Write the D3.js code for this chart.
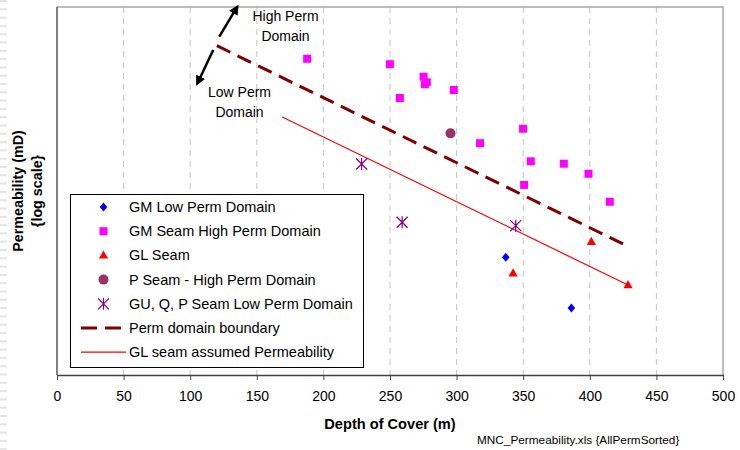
<!DOCTYPE html>
<html>
<head>
<meta charset="utf-8">
<script src="https://cdn.jsdelivr.net/npm/d3@7"></script>
<style>
  body { margin: 0; background: #fff; }
  svg { display: block; font-family: Arial, "Liberation Sans", sans-serif; }
</style>
</head>
<body>
<svg id="chart" width="740" height="450"></svg>
<script>
// =========================
// DATA
// =========================

const xTicks = [0, 50, 100, 150, 200, 250, 300, 350, 400, 450, 500];
const gridTicks = [50, 100, 150, 200, 250, 300, 350, 400, 450];

const gmLowDepth = [336.9, 386.2];
const gmLowPerm = [0.0397, 0.00813];

const gmHighDepth = [187.8, 249.9, 275.2, 277.6, 276.2, 257.4, 297.9, 349.9, 317.6, 355.7, 380.5, 399.0, 350.7, 415.0];
const gmHighPerm = [19.8, 16.7, 11.3, 9.48, 8.91, 5.80, 7.45, 2.22, 1.41, 0.801, 0.743, 0.543, 0.382, 0.226];

const glDepth = [401.2, 342.4, 428.7];
const glPerm = [0.0647, 0.0241, 0.0167];

const pHighDepth = [295.4];
const pHighPerm = [1.92];

const guLowDepth = [228.7, 259.1, 344.4];
const guLowPerm = [0.736, 0.119, 0.107];

const boundaryDepth = [120, 425.5];
const boundaryPerm = [29.8, 0.0597];

const glAssumedDepth = [169.1, 428.7];
const glAssumedPerm = [3.2, 0.0167];

const legendLabels = [
  'GM Low Perm Domain',
  'GM Seam High Perm Domain',
  'GL Seam',
  'P Seam - High Perm Domain',
  'GU, Q, P Seam Low Perm Domain',
  'Perm domain boundary',
  'GL seam assumed Permeability'
];

// =========================
// SETUP
// =========================

const svg = d3.select('#chart');

const margin = { top: 7, right: 17, bottom: 75, left: 57 };
const width = 740;
const height = 450;

const x = d3.scaleLinear()
  .domain([0, 500])
  .range([margin.left, width - margin.right]);

const y = d3.scaleLog()
  .domain([0.001, 100])
  .range([height - margin.bottom, margin.top]);

const symbols = {
  diamond: 'M0,-4.5L3.8,0L0,4.5L-3.8,0Z',
  square: 'M-4,-4H4V4H-4Z',
  triangle: 'M0,-5L4.6,3.2L-4.6,3.2Z',
  star: 'M-5.5,-5.5L5.5,5.5M-5.5,5.5L5.5,-5.5M0,-6L0,6'
};

// left-edge stripes
const stripes = svg.append('g');
d3.range(0, height, 8.3).forEach(yy => {
  stripes.append('rect')
    .attr('x', 0).attr('y', yy)
    .attr('width', 7).attr('height', 2)
    .attr('fill', '#e4e4e4');
});

// =========================
// GRID + FRAME
// =========================

svg.append('g')
  .selectAll('line')
  .data(gridTicks)
  .enter()
  .append('line')
  .attr('x1', d => x(d)).attr('x2', d => x(d))
  .attr('y1', y.range()[1]).attr('y2', y.range()[0])
  .attr('stroke', '#c4c4c4')
  .attr('stroke-width', 1)
  .attr('stroke-dasharray', '6,5');

// top and right border
svg.append('path')
  .attr('d', `M${x(0)},${y.range()[1]}H${x(500)}V${y.range()[0]}`)
  .attr('fill', 'none')
  .attr('stroke', '#a8a8a8')
  .attr('stroke-width', 1.5);

// left axis line
svg.append('line')
  .attr('x1', x(0)).attr('x2', x(0))
  .attr('y1', y.range()[1]).attr('y2', y.range()[0])
  .attr('stroke', '#404040')
  .attr('stroke-width', 1.3);

// bottom axis
const xAxis = svg.append('g')
  .attr('transform', `translate(0, ${y.range()[0]})`)
  .call(d3.axisBottom(x).tickValues(xTicks).tickSize(5).tickSizeOuter(0).tickPadding(11));

xAxis.select('.domain').attr('stroke', '#404040').attr('stroke-width', 1.3);
xAxis.selectAll('.tick line').attr('stroke', '#404040');
xAxis.selectAll('text')
  .style('font-size', '14px')
  .style('font-family', 'Arial, "Liberation Sans", sans-serif')
  .attr('fill', '#000');

// =========================
// LINES
// =========================

const line = d3.line().x(d => x(d[0])).y(d => y(d[1]));

svg.append('path')
  .attr('d', line(glAssumedDepth.map((d, i) => [d, glAssumedPerm[i]])))
  .attr('fill', 'none')
  .attr('stroke', '#ff0000')
  .attr('stroke-width', 1.2);

svg.append('path')
  .attr('d', line(boundaryDepth.map((d, i) => [d, boundaryPerm[i]])))
  .attr('fill', 'none')
  .attr('stroke', '#800000')
  .attr('stroke-width', 3)
  .attr('stroke-dasharray', '15,8');

// =========================
// POINTS
// =========================

function drawSymbols(depths, perms, shape, fill, stroke) {
  svg.append('g')
    .selectAll('path')
    .data(depths.map((d, i) => [d, perms[i]]))
    .enter()
    .append('path')
    .attr('transform', d => `translate(${x(d[0])}, ${y(d[1])})`)
    .attr('d', symbols[shape])
    .attr('fill', fill)
    .attr('stroke', stroke || 'none')
    .attr('stroke-width', 1.2);
}

drawSymbols(gmHighDepth, gmHighPerm, 'square', '#ff00ff');
drawSymbols(gmLowDepth, gmLowPerm, 'diamond', '#0000ff');
drawSymbols(glDepth, glPerm, 'triangle', '#ff0000');
drawSymbols(guLowDepth, guLowPerm, 'star', 'none', '#800080');

svg.append('g')
  .selectAll('circle')
  .data(pHighDepth.map((d, i) => [d, pHighPerm[i]]))
  .enter()
  .append('circle')
  .attr('cx', d => x(d[0]))
  .attr('cy', d => y(d[1]))
  .attr('r', 5)
  .attr('fill', '#993366');

// =========================
// ANNOTATIONS
// =========================

svg.append('defs').append('marker')
  .attr('id', 'arrow')
  .attr('viewBox', '0 0 10 10')
  .attr('refX', 8).attr('refY', 5)
  .attr('markerWidth', 4).attr('markerHeight', 4)
  .attr('orient', 'auto')
  .append('path')
  .attr('d', 'M0,0L10,5L0,10Z')
  .attr('fill', '#000');

const arrows = [
  [[121.8, 39.5], [135.5, 102]],
  [[117.3, 26.1], [105.2, 9.0]]
];

arrows.forEach(a => {
  svg.append('line')
    .attr('x1', x(a[0][0])).attr('y1', y(a[0][1]))
    .attr('x2', x(a[1][0])).attr('y2', y(a[1][1]))
    .attr('stroke', '#000')
    .attr('stroke-width', 2.5)
    .attr('marker-end', 'url(#arrow)');
});

function multiText(lines, cx, cy, step) {
  const t = svg.append('text')
    .attr('text-anchor', 'middle')
    .style('font-size', '14px')
    .attr('fill', '#000');
  lines.forEach((l, i) => {
    t.append('tspan').attr('x', cx).attr('y', cy + i * step).text(l);
  });
}

multiText(['High Perm', 'Domain'], 285.5, 21, 19.7);
multiText(['Low Perm', 'Domain'], 239.5, 97, 19.5);

// =========================
// LEGEND
// =========================

const legend = svg.append('g');

legend.append('rect')
  .attr('x', 70.5).attr('y', 194.5)
  .attr('width', 293).attr('height', 173)
  .attr('fill', '#fff')
  .attr('stroke', '#000')
  .attr('stroke-width', 1);

const legendShapes = [
  { shape: 'diamond', fill: '#0000ff' },
  { shape: 'square', fill: '#ff00ff' },
  { shape: 'triangle', fill: '#ff0000' },
  { shape: 'circle', fill: '#993366' },
  { shape: 'star', fill: 'none', stroke: '#800080' },
  { shape: 'dash' },
  { shape: 'line' }
];

legendLabels.forEach((label, i) => {
  const ly = 207 + i * 24.2;
  const s = legendShapes[i];

  if (s.shape === 'circle') {
    legend.append('circle').attr('cx', 103.5).attr('cy', ly).attr('r', 5).attr('fill', s.fill);
  } else if (s.shape === 'dash') {
    legend.append('line')
      .attr('x1', 81).attr('x2', 121).attr('y1', ly).attr('y2', ly)
      .attr('stroke', '#800000').attr('stroke-width', 3)
      .attr('stroke-dasharray', '16,8');
  } else if (s.shape === 'line') {
    legend.append('line')
      .attr('x1', 81).attr('x2', 126).attr('y1', ly).attr('y2', ly)
      .attr('stroke', '#ff0000').attr('stroke-width', 1.2);
  } else {
    legend.append('path')
      .attr('transform', `translate(103.5, ${ly})`)
      .attr('d', symbols[s.shape])
      .attr('fill', s.fill)
      .attr('stroke', s.stroke || 'none')
      .attr('stroke-width', 1.2);
  }

  legend.append('text')
    .attr('x', 129)
    .attr('y', ly + 5)
    .style('font-size', '14.5px')
    .attr('fill', '#000')
    .text(label);
});

// =========================
// AXIS TITLES
// =========================

svg.append('text')
  .attr('x', 390)
  .attr('y', 428.5)
  .attr('text-anchor', 'middle')
  .style('font-size', '14.6px')
  .style('font-weight', 'bold')
  .text('Depth of Cover (m)');

svg.append('text')
  .attr('transform', 'translate(23, 191) rotate(-90)')
  .attr('text-anchor', 'middle')
  .style('font-size', '14.3px')
  .style('font-weight', 'bold')
  .text('Permeability (mD)');

svg.append('text')
  .attr('transform', 'translate(42, 191) rotate(-90)')
  .attr('text-anchor', 'middle')
  .style('font-size', '14.3px')
  .style('font-weight', 'bold')
  .text('{log scale}');

svg.append('text')
  .attr('x', 477)
  .attr('y', 443.5)
  .style('font-size', '11.8px')
  .attr('fill', '#000')
  .text('MNC_Permeability.xls {AllPermSorted}');
</script>
</body>
</html>
